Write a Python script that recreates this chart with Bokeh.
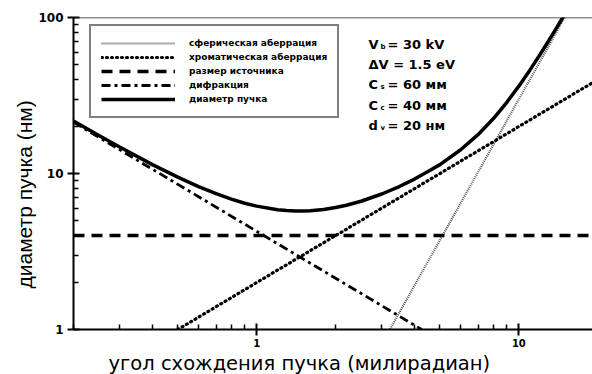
from bokeh.plotting import figure
from bokeh.models import (Label, Legend, LegendItem, FixedTicker, Span,
                          Range1d, PrintfTickFormatter, Title)
from bokeh.embed import file_html
from bokeh.resources import INLINE

# Convergence angle (mrad) and beam-diameter contributions (nm)
alpha_range = [0.2, 19.1]
d_range = [1.0, 100.0]

# spherical aberration
sph_alpha = [3.2, 15.2]
sph_d = [0.98, 105.0]

# chromatic aberration
chr_alpha = [0.5, 19.1]
chr_d = [1.0, 38.2]

# source size
src_alpha = [0.2, 19.1]
src_d = [4.0, 4.0]

# diffraction
dif_alpha = [0.2, 4.26]
dif_d = [21.3, 1.0]

# total beam diameter
tot_alpha = [0.2, 0.25, 0.3, 0.4, 0.5, 0.6, 0.7, 0.8, 0.9, 1.0, 1.2, 1.3,
             1.4, 1.5, 1.6, 1.8, 2.0, 2.2, 2.5, 3.0, 3.5, 4.0, 4.5, 5.0,
             6.0, 7.0, 8.0, 9.0, 10.0, 11.0, 12.0, 13.0, 14.0, 15.0]
tot_d = [21.7, 17.5, 14.8, 11.4, 9.47, 8.24, 7.42, 6.85, 6.45, 6.18, 5.86,
         5.79, 5.75, 5.75, 5.78, 5.88, 6.05, 6.26, 6.64, 7.39, 8.25, 9.21,
         10.3, 11.4, 14.2, 17.8, 22.5, 28.6, 36.3, 45.8, 57.3, 71.0, 87.0,
         105.7]

# ticks
x_major = [1, 10]
x_minor = [0.2, 0.3, 0.4, 0.5, 0.6, 0.7, 0.8, 0.9, 2, 3, 4, 5, 6, 7, 8, 9]
y_major = [1, 10, 100]
y_minor = [2, 3, 4, 5, 6, 7, 8, 9, 20, 30, 40, 50, 60, 70, 80, 90]

legend_labels = ["сферическая аберрация", "хроматическая аберрация",
                 "размер источника", "дифракция", "диаметр пучка"]

x_title = "угол схождения пучка (милирадиан)"
y_title = "диаметр пучка (нм)"

# parameter block: (symbol, subscript, rest)
params = [("V", "b", "= 30 kV"), ("ΔV = 1.5 eV", "", ""),
          ("C", "s", "= 60 мм"), ("C", "c", "= 40 мм"), ("d", "v", "= 20 нм")]

LEFT, TOP, BOTTOM = 73, 17, 43

p = figure(width=592, height=374, x_axis_type="log", y_axis_type="log",
           x_range=Range1d(*alpha_range), y_range=Range1d(*d_range),
           output_backend="svg", toolbar_location=None,
           min_border_left=LEFT, min_border_right=0,
           min_border_top=TOP, min_border_bottom=BOTTOM)
p.xgrid.visible = False
p.ygrid.visible = False
p.outline_line_color = None
p.background_fill_color = "white"
p.border_fill_color = "white"

for ax, major, minor, size, standoff in (
        (p.xaxis, x_major, x_minor, "10px", 3),
        (p.yaxis, y_major, y_minor, "12px", 4)):
    ax.ticker = FixedTicker(ticks=major, minor_ticks=minor)
    ax.formatter = PrintfTickFormatter(format="%d")
    ax.axis_line_width = 2
    ax.axis_line_color = "black"
    ax.major_tick_line_width = 2
    ax.major_tick_line_color = "black"
    ax.minor_tick_line_width = 1.5
    ax.minor_tick_line_color = "black"
    ax.major_tick_in = 6
    ax.major_tick_out = 6
    ax.minor_tick_in = 5
    ax.minor_tick_out = 0
    ax.major_label_text_font = "DejaVu Sans"
    ax.major_label_text_font_style = "bold"
    ax.major_label_text_font_size = size
    ax.major_label_text_color = "black"
    ax.major_label_standoff = standoff

# axis titles
p.add_layout(Title(text=x_title, align="left", offset=35, standoff=0,
                   text_font="DejaVu Sans", text_font_style="normal",
                   text_font_size="19.5px", text_color="black"), "below")
p.add_layout(Title(text=y_title, align="left", offset=41, standoff=0,
                   text_font="Liberation Sans", text_font_style="normal",
                   text_font_size="21px", text_color="black"), "left")

# top frame line
p.add_layout(Span(location=d_range[1], dimension="width",
                  line_color="#222222", line_width=1.5))

r_sph = p.line(sph_alpha, sph_d, line_color="#5a5a5a", line_width=2.2,
               line_dash="1 1")
r_chr = p.line(chr_alpha, chr_d, line_color="black", line_width=3.2,
               line_dash="1 4", line_cap="round")
r_src = p.line(src_alpha, src_d, line_color="black", line_width=3.5,
               line_dash="11 7")
r_dif = p.line(dif_alpha, dif_d, line_color="black", line_width=2.8,
               line_dash="9 4 3 4")
r_tot = p.line(tot_alpha, tot_d, line_color="black", line_width=3.5)

legend = Legend(
    items=[LegendItem(label=lab, renderers=[r]) for lab, r in
           zip(legend_labels, [r_sph, r_chr, r_src, r_dif, r_tot])],
    location=(16, 211), glyph_width=74, glyph_height=14, label_height=14,
    label_width=133, label_standoff=14, spacing=0, padding=10, margin=0,
    border_line_color="black", border_line_width=2,
    background_fill_color="white", background_fill_alpha=1.0,
    label_text_font="DejaVu Sans", label_text_font_style="bold",
    label_text_font_size="9px", label_text_color="black")
p.add_layout(legend)


def put(text, px, py, size):
    p.add_layout(Label(x=alpha_range[0], y=d_range[1],
                       x_offset=px - LEFT, y_offset=-(py - TOP),
                       text=text, text_font="DejaVu Sans",
                       text_font_size=size, text_font_style="bold",
                       text_color="black", text_baseline="alphabetic",
                       text_align="left"))


# parameter block
for i, (sym, sub, rest) in enumerate(params):
    base = 44 + i * 20.2
    put(sym, 368, base, "13px")
    if sub:
        put(sub, 380, base + 2.5, "7px")
        put(rest, 387, base, "13px")

open("out.html", "w").write(file_html(p, INLINE))
